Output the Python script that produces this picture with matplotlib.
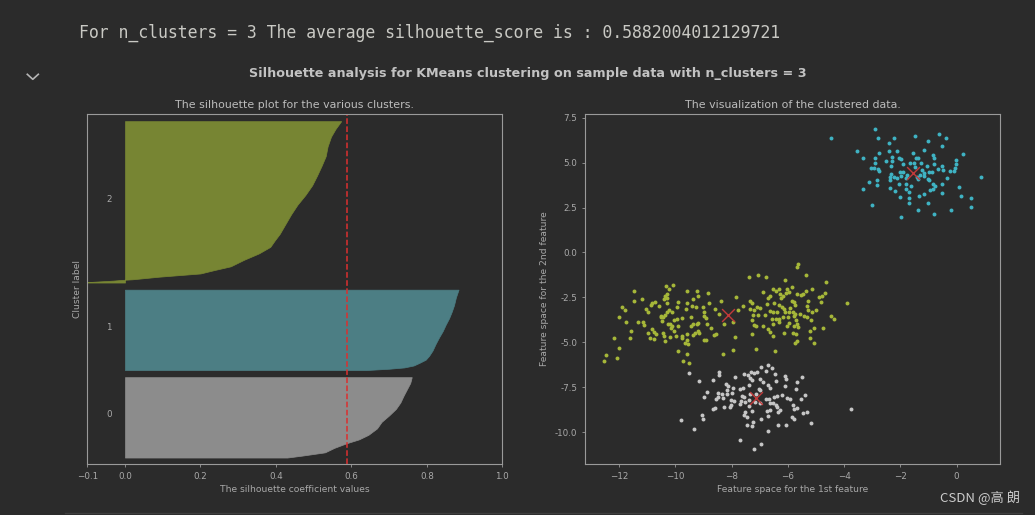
import matplotlib
matplotlib.use("Agg")
import matplotlib.pyplot as plt
from matplotlib.lines import Line2D
import numpy as np

# ---------------- data ----------------
n_clusters = 3
silhouette_avg = 0.5882004012129721
cluster_sizes = [125, 125, 250]

# sorted silhouette values, read at selected ranks inside each cluster
sil_rank_0 = [0, 3, 8, 15, 22, 28, 35, 45, 55, 65, 75, 85, 95, 105, 115, 124]
sil_vals_0 = [0.43, 0.47, 0.53, 0.555, 0.587, 0.62, 0.645, 0.668, 0.68, 0.70,
              0.718, 0.73, 0.738, 0.747, 0.756, 0.76]
sil_rank_1 = [0, 2, 4, 7, 11, 16, 22, 30, 40, 50, 60, 70, 80, 90, 100, 112, 124]
sil_vals_1 = [0.64, 0.70, 0.74, 0.765, 0.78, 0.797, 0.806, 0.815, 0.823, 0.832,
              0.842, 0.85, 0.859, 0.866, 0.872, 0.877, 0.884]
sil_rank_2 = [0, 1, 2, 3, 4, 5, 9, 14, 19, 25, 35, 45, 55, 65, 75, 90, 105, 120,
              135, 150, 165, 180, 195, 210, 225, 237, 249]
sil_vals_2 = [-0.12, -0.09, -0.06, -0.03, -0.01, 0.02, 0.09, 0.2, 0.235, 0.28,
              0.315, 0.355, 0.385, 0.397, 0.41, 0.425, 0.44, 0.457, 0.478, 0.496,
              0.509, 0.521, 0.532, 0.537, 0.546, 0.558, 0.573]

# scatter points (feature 1, feature 2) per cluster
points_0 = [(-6.72,-6.28),(-6.58,-6.43),(-6.97,-6.37),(-7.08,-6.65),(-7.30,-6.65),(-7.20,-6.69),
    (-7.56,-6.74),(-8.43,-6.65),(-8.43,-6.84),(-9.50,-6.71),(-7.88,-6.91),(-7.43,-6.84),(-7.35,-6.98),
    (-7.27,-7.10),(-6.99,-7.06),(-6.79,-6.61),(-6.46,-6.74),(-6.43,-7.13),(-6.10,-6.89),(-6.07,-7.06),
    (-5.51,-6.93),(-5.66,-7.23),(-9.17,-7.17),(-8.67,-7.10),(-8.20,-7.32),(-8.12,-7.43),(-7.96,-7.54),
    (-7.70,-7.58),(-7.58,-7.52),(-7.39,-7.39),(-7.04,-7.58),(-6.87,-7.23),(-6.72,-7.36),(-6.65,-7.52),
    (-6.10,-7.43),(-5.71,-7.58),(-8.89,-7.76),(-8.49,-7.80),(-8.35,-7.89),(-8.17,-7.67),(-8.15,-7.89),
    (-7.97,-7.80),(-8.99,-8.04),(-8.49,-8.04),(-8.29,-8.10),(-8.03,-8.23),(-7.91,-8.26),(-7.64,-7.99),
    (-7.57,-8.06),(-7.66,-8.28),(-7.52,-8.32),(-7.38,-8.19),(-7.33,-7.89),(-7.14,-7.89),(-6.98,-7.65),
    (-6.76,-8.17),(-6.66,-8.14),(-6.50,-8.06),(-6.37,-8.02),(-6.20,-7.95),(-6.03,-8.10),(-5.92,-8.14),
    (-5.54,-8.14),(-5.39,-7.95),(-8.65,-8.73),(-8.58,-8.65),(-8.27,-8.60),(-8.06,-8.60),(-8.01,-8.51),
    (-7.70,-8.43),(-7.38,-8.54),(-7.17,-8.32),(-6.99,-8.38),(-6.65,-8.38),(-6.42,-8.47),(-6.40,-8.62),
    (-6.28,-8.78),(-6.36,-8.88),(-5.81,-8.51),(-5.78,-8.73),(-5.66,-8.65),(-5.47,-8.93),(-5.32,-8.91),
    (-6.75,-8.84),(-6.63,-8.78),(-7.52,-8.88),(-7.26,-8.84),(-9.04,-9.03),(-9.00,-9.25),(-9.79,-9.32),
    (-7.56,-9.06),(-7.46,-9.16),(-6.69,-9.12),(-6.94,-9.29),(-5.86,-9.16),(-5.77,-9.29),(-5.17,-9.51),
    (-3.77,-8.71),(-7.25,-9.44),(-7.44,-9.62),(-7.27,-9.66),(-6.34,-9.62),(-6.07,-9.60),(-9.32,-9.82),
    (-6.69,-9.96),(-7.69,-10.44),(-6.94,-10.64),(-7.20,-10.92),(-8.55,-8.14),(-6.52,-8.41)]

points_1 = [(-2.89,6.87),(-1.48,6.50),(-0.63,6.61),(-0.39,6.37),(-2.78,6.37),(-2.23,6.37),(-2.42,6.11),
    (-1.01,6.20),(-0.53,5.92),(-3.53,5.66),(-2.77,5.55),(-2.42,5.66),(-2.12,5.64),(-1.54,5.55),(-1.16,5.72),
    (0.24,5.51),(-0.85,5.44),(-3.34,5.24),(-2.90,5.27),(-2.31,5.29),(-2.04,5.24),(-1.98,5.22),(-1.43,5.27),
    (-1.38,5.25),(-0.82,5.25),(-0.01,5.16),(-2.52,5.09),(-2.29,5.11),(-1.90,4.94),(-1.65,5.01),(-1.52,4.99),
    (-1.27,5.01),(-0.79,4.92),(-0.04,4.92),(-2.90,4.96),(-3.05,4.73),(-2.95,4.73),(-2.78,4.64),(-2.33,4.79),
    (-1.49,4.77),(-1.07,4.83),(-0.68,4.64),(-0.52,4.83),(-0.48,4.62),(-0.05,4.73),(-2.77,4.55),(-2.03,4.46),
    (-1.92,4.46),(-1.23,4.59),(-0.97,4.46),(-0.25,4.55),(-0.11,4.53),(-2.35,4.36),(-2.22,4.23),(-1.78,4.29),
    (-1.30,4.34),(-1.16,4.40),(-1.81,4.16),(-1.98,4.25),(-0.89,4.49),(0.86,4.18),(-2.36,4.21),(-2.13,4.12),
    (-1.38,4.10),(-1.02,4.08),(-0.99,4.01),(-2.82,4.05),(-2.37,4.01),(-3.12,3.90),(-2.84,3.75),(-2.06,3.81),
    (-1.79,3.79),(-1.64,3.69),(-1.41,4.19),(-1.17,4.25),(-0.83,3.79),(-0.76,3.71),(-0.53,3.82),(-0.34,4.12),
    (0.08,3.66),(-3.33,3.53),(-2.37,3.58),(-2.18,3.42),(-1.80,3.53),(-1.71,3.34),(-0.94,3.47),(-0.84,3.56),
    (-2.02,3.08),(-1.70,3.01),(-1.33,3.12),(-1.15,3.25),(-0.53,3.30),(-1.68,2.78),(0.14,3.12),(0.51,3.01),
    (-3.00,2.65),(-1.01,2.78),(0.52,2.52),(-1.36,2.39),(-0.20,2.36),(-0.82,2.12),(-1.99,1.99),(-4.47,6.35)]

points_2 = [(-10.07,-1.82),(-10.33,-1.88),(-10.22,-2.06),(-11.46,-2.16),(-10.30,-2.30),(-10.37,-2.42),
    (-10.41,-2.58),(-10.28,-2.51),(-11.20,-2.58),(-11.47,-2.71),(-10.72,-2.75),(-10.82,-2.81),(-9.90,-2.75),
    (-9.58,-2.16),(-9.24,-2.14),(-8.84,-2.23),(-9.20,-2.42),(-9.38,-2.58),(-9.60,-2.84),(-10.88,-2.90),
    (-10.59,-2.99),(-10.28,-2.79),(-9.93,-3.03),(-9.42,-2.97),(-9.28,-3.05),(-9.03,-3.03),(-8.81,-2.82),
    (-11.91,-3.01),(-11.79,-3.21),(-11.05,-3.14),(-10.98,-3.34),(-10.24,-3.18),(-10.30,-3.31),(-10.13,-3.31),
    (-9.62,-3.16),(-8.98,-3.33),(-8.58,-3.14),(-8.46,-3.44),(-11.99,-3.59),(-10.50,-3.51),(-10.43,-3.57),
    (-10.37,-3.49),(-10.52,-3.62),(-9.44,-3.60),(-8.97,-3.55),(-8.91,-3.64),(-9.75,-3.66),(-9.94,-3.72),
    (-10.03,-3.75),(-11.75,-3.88),(-11.34,-3.86),(-11.16,-3.88),(-11.10,-4.05),(-10.46,-3.83),(-10.20,-3.96),
    (-10.11,-4.12),(-10.25,-4.01),(-10.17,-4.20),(-9.89,-4.12),(-9.43,-4.11),(-9.38,-3.98),(-9.24,-4.01),
    (-9.19,-3.94),(-8.89,-3.99),(-8.73,-4.18),(-10.84,-4.24),(-10.77,-4.42),(-10.67,-4.53),(-10.96,-4.48),
    (-10.45,-4.46),(-10.39,-4.66),(-10.03,-4.38),(-9.97,-4.64),(-10.18,-4.72),(-11.57,-4.38),(-9.75,-4.64),
    (-9.58,-4.55),(-9.36,-4.61),(-9.31,-4.46),(-9.18,-4.35),(-9.15,-4.48),(-8.62,-4.61),(-8.57,-4.53),
    (-11.61,-4.77),(-12.18,-4.76),(-10.91,-4.79),(-10.76,-4.81),(-10.38,-4.94),(-9.75,-4.74),(-9.60,-4.89),
    (-9.64,-5.05),(-9.54,-5.09),(-8.99,-4.87),(-8.92,-4.85),(-12.00,-5.33),(-9.92,-5.48),(-9.58,-5.63),
    (-12.45,-5.70),(-12.07,-5.89),(-12.55,-6.06),(-9.73,-6.02),(-9.50,-6.17),
    (-5.63,-0.65),(-5.69,-0.80),(-7.39,-1.38),(-7.06,-1.23),(-6.76,-1.38),(-6.09,-1.52),(-5.36,-1.26),
    (-4.64,-1.65),(-6.52,-2.03),(-6.41,-2.14),(-6.33,-2.03),(-6.02,-2.01),(-5.84,-1.95),(-5.95,-2.19),
    (-6.08,-2.25),(-6.16,-2.42),(-6.24,-2.51),(-6.62,-2.40),(-6.69,-2.56),(-6.28,-2.30),(-6.90,-2.21),
    (-5.69,-2.32),(-5.53,-2.36),(-5.47,-2.29),(-5.37,-2.14),(-5.14,-2.01),(-4.91,-2.47),(-4.79,-2.40),
    (-4.67,-2.23),(-8.38,-2.71),(-7.85,-2.49),(-7.35,-2.69),(-7.27,-2.84),(-7.10,-3.03),(-6.98,-3.08),
    (-7.19,-3.18),(-7.35,-3.16),(-7.59,-2.99),(-6.75,-2.88),(-6.49,-2.81),(-6.31,-2.95),(-6.21,-3.03),
    (-6.13,-3.12),(-5.94,-3.07),(-5.75,-2.94),(-5.79,-2.77),(-5.86,-2.68),(-5.28,-2.68),(-5.33,-2.99),
    (-4.83,-2.77),(-3.90,-2.82),(-7.76,-3.21),(-6.63,-3.25),(-6.52,-3.31),(-6.39,-3.31),(-6.09,-3.34),
    (-5.96,-3.33),(-5.83,-3.31),(-5.73,-3.40),(-5.56,-3.40),(-5.27,-3.21),(-5.15,-3.29),(-5.00,-3.18),
    (-6.82,-3.46),(-7.07,-3.46),(-7.25,-3.49),(-5.78,-3.55),(-5.41,-3.53),(-5.32,-3.62),(-4.48,-3.53),
    (-4.37,-3.68),(-7.27,-3.75),(-6.58,-3.73),(-6.42,-3.68),(-6.30,-3.68),(-6.16,-3.62),(-5.99,-3.59),
    (-5.72,-3.77),(-5.18,-3.77),(-5.68,-3.99),(-5.78,-4.07),(-6.03,-4.07),(-5.97,-3.92),(-6.33,-3.88),
    (-6.54,-3.96),(-7.19,-4.03),(-7.13,-4.09),(-6.87,-4.12),(-6.69,-4.24),(-6.62,-4.42),(-6.53,-4.64),
    (-6.15,-4.50),(-5.81,-4.50),(-5.71,-4.53),(-5.64,-4.16),(-5.07,-4.20),(-4.76,-4.22),(-5.20,-4.37),
    (-7.89,-4.70),(-7.26,-4.55),(-5.73,-5.03),(-5.08,-5.02),(-5.68,-4.94),(-5.23,-4.79),(-7.96,-5.41),
    (-8.29,-5.63),(-7.13,-5.37),(-6.46,-5.50),(-8.26,-4.01),(-7.94,-3.86)]

centers_x = [-7.12, -1.54, -8.11]
centers_y = [-8.08, 4.40, -3.48]

# ---------------- style ----------------
BG = "#2b2b2b"
fill_colors = ["#8c8c8c", "#4c7e84", "#778533"]
point_colors = ["#c6c6c6", "#3fb3c3", "#a6b739"]
TXT = "#bcbcbc"
TICK = "#a9a9a9"
SPINE = "#9a9a9a"

fig = plt.figure(figsize=(10.35, 5.15), dpi=100, facecolor=BG)
ax1 = fig.add_axes([0.0843, 0.0990, 0.4010, 0.6796])
ax2 = fig.add_axes([0.5652, 0.0990, 0.4010, 0.6796])

for ax in (ax1, ax2):
    ax.set_facecolor(BG)
    for s in ax.spines.values():
        s.set_color(SPINE)
        s.set_linewidth(0.8)
    ax.tick_params(colors=SPINE, labelcolor=TICK, labelsize=6.3,
                   length=2.4, width=0.6, pad=3.0)

# ---------- silhouette plot ----------
ranks = [sil_rank_0, sil_rank_1, sil_rank_2]
vals = [sil_vals_0, sil_vals_1, sil_vals_2]
y_lower = 10
for i in range(n_clusters):
    size = cluster_sizes[i]
    y = y_lower + np.asarray(ranks[i], dtype=float)
    ax1.fill_betweenx(y, 0, vals[i], facecolor=fill_colors[i],
                      edgecolor=fill_colors[i], linewidth=0.5)
    ax1.text(-0.05, y_lower + 0.5 * size, str(i), color=TICK, fontsize=6.3)
    y_lower = y_lower + size + 10

ax1.axvline(x=silhouette_avg, color="#dc2f2f", linestyle="--", linewidth=1.1)
ax1.set_xlim([-0.1, 1])
ax1.set_ylim([0, sum(cluster_sizes) + (n_clusters + 1) * 10])
ax1.set_yticks([])
ax1.set_xticks([-0.1, 0, 0.2, 0.4, 0.6, 0.8, 1])
ax1.set_title("The silhouette plot for the various clusters.", color=TXT,
              fontsize=7.9, pad=4)
ax1.set_xlabel("The silhouette coefficient values", color=TICK, fontsize=6.6, labelpad=3)
ax1.set_ylabel("Cluster label", color=TICK, fontsize=6.6, labelpad=4)

# ---------- scatter plot ----------
for pts, col in zip([points_0, points_1, points_2], point_colors):
    xs = [p[0] for p in pts]
    ys = [p[1] for p in pts]
    ax2.scatter(xs, ys, s=8, c=col, linewidths=0)
ax2.scatter(centers_x, centers_y, marker="x", s=85, c="#c23a3a", linewidths=1.0)
ax2.set_xlim(-13.21, 1.54)
ax2.set_ylim(-11.78, 7.71)
ax2.set_xticks([-12, -10, -8, -6, -4, -2, 0])
ax2.set_yticks([-10, -7.5, -5, -2.5, 0, 2.5, 5, 7.5])
ax2.yaxis.set_major_formatter(matplotlib.ticker.FormatStrFormatter("%.1f"))
ax2.set_title("The visualization of the clustered data.", color=TXT, fontsize=7.9, pad=4)
ax2.set_xlabel("Feature space for the 1st feature", color=TICK, fontsize=6.6, labelpad=3)
ax2.set_ylabel("Feature space for the 2nd feature", color=TICK, fontsize=6.6, labelpad=4)

# ---------- notebook decoration ----------
fig.text(78.6 / 1035, 1 - 33 / 515,
         "For n_clusters = 3 The average silhouette_score is : 0.5882004012129721",
         family="DejaVu Sans Mono", fontsize=11.9, color="#c9c9c4", ha="left", va="center")
fig.text(528 / 1035, 1 - 73 / 515,
         "Silhouette analysis for KMeans clustering on sample data with n_clusters = %d" % n_clusters,
         fontsize=9.2, fontweight="bold", color="#c2c2c2", ha="center", va="center")
fig.lines.append(Line2D([27.3 / 1035, 32.8 / 1035, 38.3 / 1035],
                        [1 - 74.3 / 515, 1 - 79.3 / 515, 1 - 74.3 / 515],
                        transform=fig.transFigure, color="#b5b5b5", linewidth=1.2))
fig.lines.append(Line2D([65 / 1035, 1022 / 1035], [1 - 513 / 515, 1 - 513 / 515],
                        transform=fig.transFigure, color="#3e3e3e", linewidth=1.0))
fig.text(1020 / 1035, 1 - 498 / 515, "CSDN @高 朗",
         family=["Noto Sans CJK SC", "DejaVu Sans"], fontsize=9.5, color="#cccccc",
         ha="right", va="center")

fig.savefig("out.png", dpi=100, facecolor=BG)
